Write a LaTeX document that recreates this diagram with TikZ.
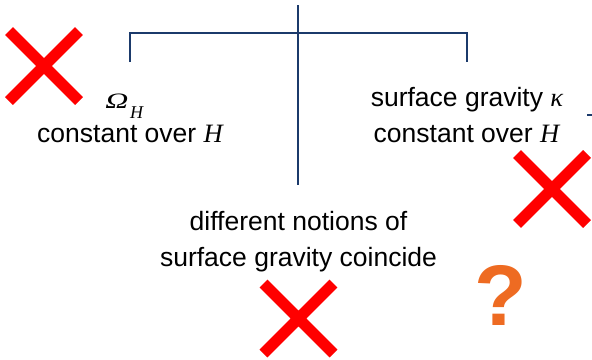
\documentclass[tikz,border=0pt]{standalone}
\usepackage{fontspec}
\usepackage{graphicx}
\setmainfont{Liberation Sans}
\newfontfamily\tms{Liberation Serif}
\definecolor{navy}{HTML}{1B3A6B}
\definecolor{xred}{HTML}{FF0000}
\definecolor{qorange}{HTML}{EE6B22}
\begin{document}
\begin{tikzpicture}[x=1pt,y=-1pt,
  conn/.style={draw=navy,line width=2.5pt},
  cross/.style={draw=xred,line width=11pt},
  lbl/.style={anchor=base,inner sep=0pt,font=\fontsize{26.5}{32}\selectfont},
  small/.style={anchor=base,inner sep=0pt,font=\fontsize{18}{20}\selectfont\tms\itshape},
  redx/.pic={\draw[cross] (-35,-35) -- (35,35) (-35,35) -- (35,-35);}]
\useasboundingbox (0,0) rectangle (592,359);
% tree connectors
\coordinate (top) at (298,5);
\coordinate (stem) at (298,185);
\coordinate (lend) at (130,62);
\coordinate (lcorner) at (130,33);
\coordinate (rcorner) at (467,33);
\coordinate (rend) at (467,62);
\coordinate (tickA) at (587,115);
\coordinate (tickB) at (592,115);
\draw[conn] (top) -- (stem);
\draw[conn] (lend) -- (lcorner) -- (rcorner) -- (rend);
\draw[conn] (tickA) -- (tickB);
% labels
\node[small,font=\fontsize{22}{24}\selectfont\tms\itshape] (omega) at (117,108.5) {\scalebox{1.45}[1]{Ω}};
\node[small] (omegasub) at (136.5,118) {H};
\node[lbl] (lconst) at (130,142) {constant over {\tms\itshape H}};
\node[lbl] (rgrav) at (467,106) {surface gravity {\tms\itshape κ}};
\node[lbl] (rconst) at (466.5,142) {constant over {\tms\itshape H}};
\node[lbl] (diff1) at (298.5,230) {different notions of};
\node[lbl] (diff2) at (298.5,266) {surface gravity coincide};
\node[anchor=base,inner sep=0pt,text=qorange,font=\fontsize{86}{90}\selectfont\bfseries] (q) at (501,325) {?};
% crosses
\pic at (44,66) {redx};
\pic at (552,189) {redx};
\pic at (298.5,318.5) {redx};
\end{tikzpicture}
\end{document}
